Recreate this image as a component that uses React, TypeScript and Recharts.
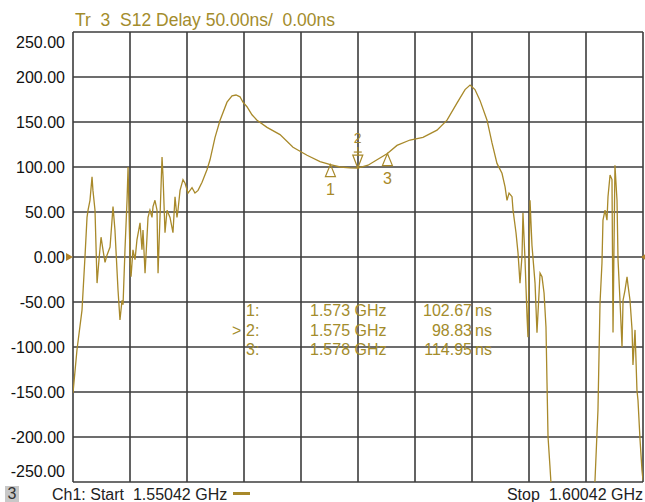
import React from 'react';
import { LineChart, Line, XAxis, YAxis, ReferenceLine, ReferenceDot } from 'recharts';

// sweep points (MHz) and measured group delay (ns)
const freqs = [
  1550.42, 1550.77, 1551.21, 1551.47, 1551.65, 1551.74, 1551.91, 1552.09, 1552.17, 1552.35,
  1552.53, 1552.70, 1552.88, 1553.05, 1553.23, 1553.40, 1553.67, 1553.93, 1554.10, 1554.37,
  1554.54, 1554.72, 1554.81, 1554.98, 1555.16, 1555.25, 1555.42, 1555.51, 1555.68, 1555.86,
  1556.03, 1556.30, 1556.47, 1556.56, 1556.74, 1556.91, 1557.00, 1557.17, 1557.35, 1557.44,
  1557.61, 1557.79, 1557.88, 1558.05, 1558.23, 1558.32, 1558.49, 1558.67, 1558.93, 1559.19,
  1559.37, 1559.54, 1559.63, 1559.81, 1560.07, 1560.25, 1560.51, 1560.86, 1561.12, 1561.39,
  1561.74, 1562.17, 1562.44, 1562.88, 1563.32, 1563.93, 1564.37, 1564.72, 1565.07, 1565.33,
  1565.68, 1566.12, 1566.56, 1567.44, 1568.58, 1569.72, 1570.95, 1572.09, 1573.00, 1573.84,
  1574.72, 1575.40, 1576.30, 1577.09, 1578.00, 1578.84, 1579.98, 1581.12, 1582.35, 1583.23,
  1584.10, 1584.81, 1585.25, 1585.68, 1586.12, 1586.74, 1587.17, 1587.61, 1588.05, 1588.32,
  1588.49, 1588.67, 1588.93, 1589.02, 1589.28, 1589.46, 1589.63, 1589.81, 1589.89, 1590.07,
  1590.25, 1590.33, 1590.51, 1590.68, 1590.95, 1591.12, 1591.39, 1591.56, 1591.74, 1591.91,
  1592.00, 1592.09, 1592.26, 1592.44, 1592.70, 1594.19, 1595.77, 1596.21, 1596.47, 1596.65,
  1596.82, 1596.91, 1597.09, 1597.26, 1597.35, 1597.53, 1597.70, 1597.79, 1597.96, 1598.14,
  1598.23, 1598.40, 1598.58, 1598.67, 1598.84, 1599.02, 1599.10, 1599.28, 1599.46, 1599.54,
  1599.72, 1599.89, 1599.98, 1600.16, 1600.33, 1600.42,
];

const delays = [
  -151, -103, -59, 0, 44, 52, 63, 89, 74, 52,
  -29, -3, 22, 8, -6, 2, 11, 56, 30, -37,
  -70, -48, -53, 8, 63, 100, 0, -22, 8, -3,
  19, 38, 8, 30, -18, 22, 44, 52, 44, 56,
  63, 52, -18, 44, 111, 89, 27, 52, 44, 27,
  67, 44, 52, 74, 86, 82, 71, 77, 71, 74,
  83, 97, 108, 133, 152, 172, 179, 180, 178, 172,
  167, 158, 152, 144, 136, 122, 113, 106, 102.67, 100,
  99, 98.83, 102, 108, 114.95, 124, 130, 133, 141, 152,
  171, 186, 191, 186, 174, 152, 127, 104, 93, 78,
  63, 71, 67, 52, 27, 4, -29, 2, 49, -3,
  -67, -89, 63, 13, -29, -84, -18, -22, -40, -78,
  -140, -200, -233, -270, -314, -330, -303, -248, -170, -51,
  -7, 41, 52, 41, 67, 91, 86, -84, 102, 63,
  -3, -48, -100, -48, -37, -22, -31, -48, -81, -120,
  -81, -148, -159, -203, -237, -248,
];

const markerIds = [1, 2, 3];
const markerFreqs = [1573.0, 1575.4, 1578.0];
const markerDelays = [102.67, 98.83, 114.95];
const markerFreqText = ['1.573 GHz', '1.575 GHz', '1.578 GHz'];
const activeMarker = 2;

const xTicks = [1550.42, 1555.42, 1560.42, 1565.42, 1570.42, 1575.42, 1580.42, 1585.42, 1590.42, 1595.42, 1600.42];
const yTicks = [250, 200, 150, 100, 50, 0, -50, -100, -150, -200, -250];

const TRACE = '#a8892a';
const TEXT = '#a38c2c';
const GRID = '#3c3c3c';
const FONT = '"Liberation Sans", Arial, sans-serif';

const data = freqs.map((f, i) => ({ f, d: delays[i] }));

const YTick = (props: any) => {
  const { x, y, payload } = props;
  let shift = 0;
  if (payload.value === 250) shift = 10;
  if (payload.value === -250) shift = -11;
  return (
    <text x={x} y={y + shift} dy="0.355em" textAnchor="end" fontSize={16} fill="#111" fontFamily={FONT}>
      {payload.value.toFixed(2)}
    </text>
  );
};

const markerShape = (id: number) => (props: any) => {
  const { cx, cy } = props;
  if (id === activeMarker) {
    return (
      <g stroke={TRACE} fill="none" strokeWidth={1.2}>
        <line x1={cx} y1={cy - 21} x2={cx} y2={cy - 13} />
        <line x1={cx - 4} y1={cy - 16} x2={cx + 4} y2={cy - 16} />
        <path d={`M${cx - 5},${cy - 13} L${cx + 5},${cy - 13} L${cx},${cy} Z`} />
        <text x={cx} y={cy - 25} textAnchor="middle" fontSize={14} fill={TRACE} stroke="none" fontFamily={FONT}>{id}</text>
      </g>
    );
  }
  return (
    <g stroke={TRACE} fill="none" strokeWidth={1.2}>
      <path d={`M${cx},${cy} L${cx + 5},${cy + 12} L${cx - 5},${cy + 12} Z`} />
      <text x={cx} y={cy + 30} textAnchor="middle" fontSize={16} fill={TRACE} stroke="none" fontFamily={FONT}>{id}</text>
    </g>
  );
};

const leftRef = (props: any) => {
  const { cx, cy } = props;
  return <path d={`M${cx},${cy} L${cx - 7},${cy - 4} L${cx - 7},${cy + 4} Z`} fill="#b0842a" />;
};

const rightRef = (props: any) => {
  const { cx, cy } = props;
  return <path d={`M${cx - 2},${cy} L${cx + 4},${cy - 4} L${cx + 4},${cy + 4} Z`} fill="#b0842a" />;
};

const abs = (left: number, top: number, extra: any = {}) => ({
  position: 'absolute' as const,
  left,
  top,
  fontSize: 16,
  lineHeight: '16px',
  whiteSpace: 'pre' as const,
  ...extra,
});

export default function App() {
  return (
    <div style={{ position: 'absolute', left: 0, top: 0, width: 645, height: 502, background: '#fff', fontFamily: FONT, overflow: 'hidden' }}>
      <div style={abs(75, 11, { fontSize: 17.5, lineHeight: '18px', color: TEXT })}>Tr  3  S12 Delay 50.00ns/  0.00ns</div>

      <LineChart width={645} height={502} data={data} margin={{ top: 32, right: 2, bottom: 20, left: 0 }}>
        <XAxis dataKey="f" type="number" domain={[1550.42, 1600.42]} allowDataOverflow hide />
        <YAxis
          type="number"
          domain={[-250, 250]}
          ticks={yTicks}
          interval={0}
          allowDataOverflow
          axisLine={false}
          tickLine={false}
          width={73}
          tick={<YTick />}
        />
        {xTicks.map((t) => (
          <ReferenceLine key={'x' + t} x={t} stroke={GRID} strokeWidth={1.6} />
        ))}
        {yTicks.map((t) => (
          <ReferenceLine key={'y' + t} y={t} stroke={GRID} strokeWidth={1.6} />
        ))}
        <Line
          dataKey="d"
          type="linear"
          stroke={TRACE}
          strokeWidth={1.3}
          dot={false}
          activeDot={false}
          isAnimationActive={false}
        />
        {markerIds.map((id, i) => (
          <ReferenceDot key={'m' + id} x={markerFreqs[i]} y={markerDelays[i]} r={0} ifOverflow="visible" shape={markerShape(id)} />
        ))}
        <ReferenceDot x={1550.42} y={0} r={0} ifOverflow="visible" shape={leftRef} />
        <ReferenceDot x={1600.42} y={0} r={0} ifOverflow="visible" shape={rightRef} />
      </LineChart>

      {markerIds.map((id, i) => {
        const top = 303 + i * 19.5;
        return (
          <React.Fragment key={'row' + id}>
            {id === activeMarker && <div style={abs(232, top, { color: TEXT })}>&gt;</div>}
            <div style={abs(246, top, { color: TEXT })}>{id}:</div>
            <div style={abs(310, top, { color: TEXT })}>{markerFreqText[i]}</div>
            <div style={abs(392, top, { color: TEXT, width: 80, textAlign: 'right' })}>{markerDelays[i].toFixed(2)}</div>
            <div style={abs(475, top, { color: TEXT })}>ns</div>
          </React.Fragment>
        );
      })}

      <div style={abs(5, 486, { width: 14, height: 16, background: '#c8c8c8', color: '#333', textAlign: 'center' })}>3</div>
      <div style={abs(52, 487, { color: '#222' })}>Ch1: Start  1.55042 GHz</div>
      <div style={abs(233, 492, { width: 17, height: 3, background: TRACE })} />
      <div style={abs(0, 487, { width: 643, textAlign: 'right', color: '#222' })}>Stop  1.60042 GHz</div>
    </div>
  );
}
